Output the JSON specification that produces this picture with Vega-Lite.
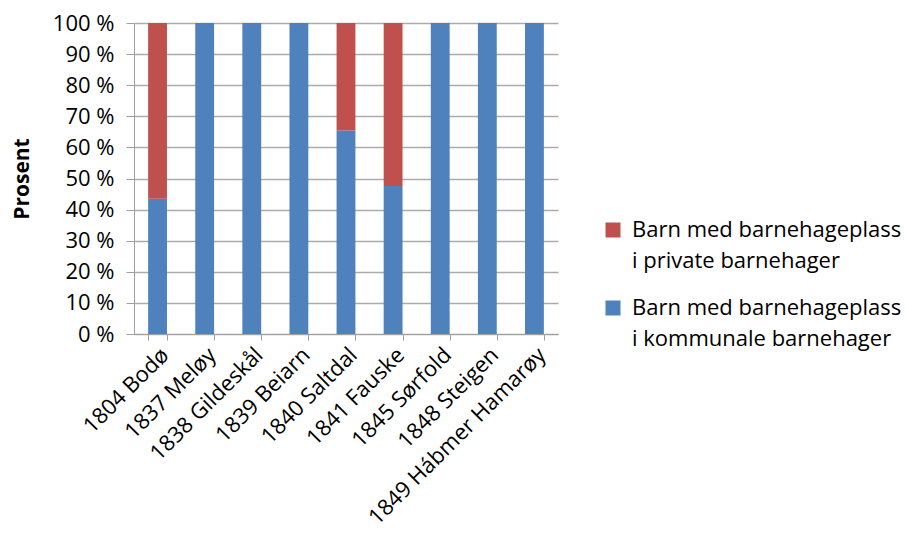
{
  "$schema": "https://vega.github.io/schema/vega-lite/v6.json",
  "autosize": "none",
  "width": 424,
  "height": 311,
  "padding": {"left": 134, "top": 23, "right": 347, "bottom": 211},
  "background": "white",
  "config": {"view": {"stroke": null}, "font": "Open Sans"},
  "data": {"values": [
    {"kommune": "1804 Bodø", "gruppe": "Barn med barnehageplass i kommunale barnehager", "andel": 43.5},
    {"kommune": "1804 Bodø", "gruppe": "Barn med barnehageplass i private barnehager", "andel": 56.5},
    {"kommune": "1837 Meløy", "gruppe": "Barn med barnehageplass i kommunale barnehager", "andel": 100},
    {"kommune": "1837 Meløy", "gruppe": "Barn med barnehageplass i private barnehager", "andel": 0},
    {"kommune": "1838 Gildeskål", "gruppe": "Barn med barnehageplass i kommunale barnehager", "andel": 100},
    {"kommune": "1838 Gildeskål", "gruppe": "Barn med barnehageplass i private barnehager", "andel": 0},
    {"kommune": "1839 Beiarn", "gruppe": "Barn med barnehageplass i kommunale barnehager", "andel": 100},
    {"kommune": "1839 Beiarn", "gruppe": "Barn med barnehageplass i private barnehager", "andel": 0},
    {"kommune": "1840 Saltdal", "gruppe": "Barn med barnehageplass i kommunale barnehager", "andel": 65.4},
    {"kommune": "1840 Saltdal", "gruppe": "Barn med barnehageplass i private barnehager", "andel": 34.6},
    {"kommune": "1841 Fauske", "gruppe": "Barn med barnehageplass i kommunale barnehager", "andel": 47.6},
    {"kommune": "1841 Fauske", "gruppe": "Barn med barnehageplass i private barnehager", "andel": 52.4},
    {"kommune": "1845 Sørfold", "gruppe": "Barn med barnehageplass i kommunale barnehager", "andel": 100},
    {"kommune": "1845 Sørfold", "gruppe": "Barn med barnehageplass i private barnehager", "andel": 0},
    {"kommune": "1848 Steigen", "gruppe": "Barn med barnehageplass i kommunale barnehager", "andel": 100},
    {"kommune": "1848 Steigen", "gruppe": "Barn med barnehageplass i private barnehager", "andel": 0},
    {"kommune": "1849 Hábmer Hamarøy", "gruppe": "Barn med barnehageplass i kommunale barnehager", "andel": 100},
    {"kommune": "1849 Hábmer Hamarøy", "gruppe": "Barn med barnehageplass i private barnehager", "andel": 0}
  ]},
  "mark": {"type": "bar"},
  "encoding": {
    "x": {
      "field": "kommune", "type": "nominal", "sort": null,
      "scale": {"paddingInner": 0.6, "paddingOuter": 0.3},
      "axis": {
        "title": null, "labelAngle": -45, "labelFontSize": 22, "labelColor": "black",
        "domainColor": "#a0a0a0", "tickColor": "#a0a0a0", "tickBand": "extent", "tickSize": 6,
        "labelPadding": 4, "labelLimit": 300
      }
    },
    "y": {
      "field": "andel", "type": "quantitative", "stack": "normalize",
      "scale": {"domain": [0, 1]},
      "axis": {
        "title": "Prosent", "titleFontSize": 21, "titleFontWeight": "bold", "titleColor": "black",
        "titlePadding": 20,
        "values": [0, 0.1, 0.2, 0.3, 0.4, 0.5, 0.6, 0.7, 0.8, 0.9, 1],
        "labelExpr": "format(datum.value * 100, 'd') + ' %'",
        "labelFontSize": 22, "labelColor": "black", "labelPadding": 12,
        "domainColor": "#a0a0a0", "tickColor": "#a0a0a0", "tickSize": 8,
        "grid": true, "gridColor": "#ababab", "gridWidth": 1.3
      }
    },
    "color": {
      "field": "gruppe", "type": "nominal",
      "scale": {
        "domain": ["Barn med barnehageplass i private barnehager", "Barn med barnehageplass i kommunale barnehager"],
        "range": ["#C0504D", "#4F81BD"]
      },
      "legend": {
        "title": null, "orient": "none", "legendX": 468, "legendY": 196,
        "symbolType": "square", "symbolSize": 225, "symbolStrokeWidth": 0,
        "labelFontSize": 22, "labelColor": "black", "labelLimit": 400,
        "labelExpr": "split(replace(datum.label, ' i ', '|i '), '|')",
        "rowPadding": 25, "labelOffset": 8,
        "encode": {"labels": {"update": {"lineHeight": {"value": 31}}}}
      }
    },
    "order": {"field": "gruppe", "sort": "ascending"}
  }
}
